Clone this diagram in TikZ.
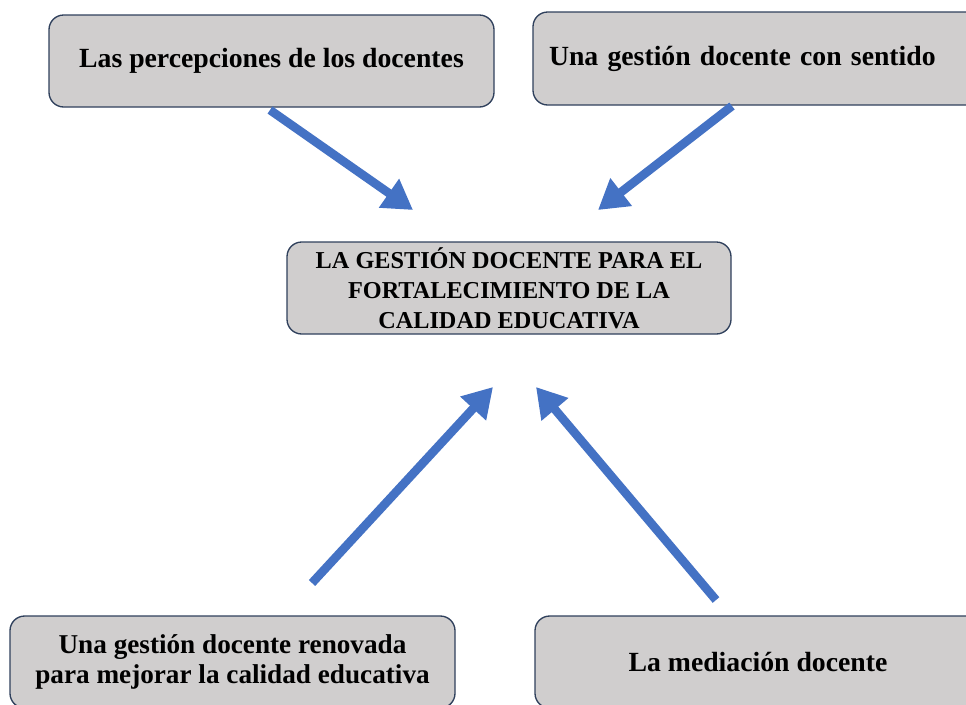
\documentclass[tikz,border=0pt]{standalone}
\usepackage{fontspec}
\setmainfont{Liberation Serif}
\usetikzlibrary{arrows.meta}
\definecolor{boxfill}{RGB}{208,206,206}
\definecolor{boxline}{RGB}{47,64,92}
\definecolor{arrowblue}{RGB}{68,114,196}
\tikzset{
  box/.style={draw=boxline, line width=1pt, fill=boxfill, rounded corners=11pt,
    minimum height=69pt, inner sep=0pt, font=\fontsize{20.8}{24}\selectfont\bfseries, align=center},
  bigarrow/.style={draw=arrowblue, line width=6.5pt,
    -{Triangle[length=22pt,width=25pt]}}
}
\begin{document}
\begin{tikzpicture}[x=0.75pt,y=-0.75pt]
\useasboundingbox (0,0) rectangle (966,704);
\clip (0,0) rectangle (966,704);
\node[box, minimum width=333.75pt] (tl) at (271.5,61) {\raisebox{-3pt}{Las percepciones de los docentes}};
\node[box, inner xsep=12pt, text width=326.25pt, align=left, minimum height=69.75pt] (tr) at (766.5,58.5) {\raisebox{-1pt}{Una gestión docente con sentido}};
\node[box, minimum width=333pt, font=\fontsize{18.2}{22.5}\selectfont\bfseries] (c) at (509,288) {LA GESTIÓN DOCENTE PARA EL\\FORTALECIMIENTO DE LA\\CALIDAD EDUCATIVA};
\node[box, minimum width=333.75pt, font=\fontsize{20.4}{22.5}\selectfont\bfseries] (bl) at (232.5,662) {Una gestión docente renovada\\para mejorar la calidad educativa};
\node[box, minimum width=334.5pt] (br) at (758,662) {La mediación docente};
\coordinate (a1s) at (270,110);
\coordinate (a1e) at (413,210);
\coordinate (a2s) at (732,106);
\coordinate (a2e) at (598,210);
\coordinate (a3s) at (312,583);
\coordinate (a3e) at (493,387);
\coordinate (a4s) at (716,600);
\coordinate (a4e) at (536,387);
\draw[bigarrow] (a1s) -- (a1e);
\draw[bigarrow] (a2s) -- (a2e);
\draw[bigarrow] (a3s) -- (a3e);
\draw[bigarrow] (a4s) -- (a4e);
\end{tikzpicture}
\end{document}
